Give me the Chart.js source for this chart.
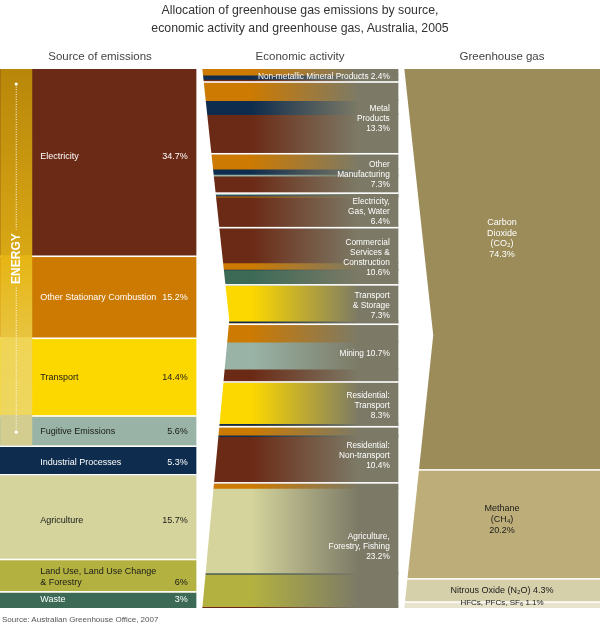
<!DOCTYPE html>
<html>
<head>
<meta charset="utf-8">
<script src="https://cdn.jsdelivr.net/npm/chart.js@4.4.1/dist/chart.umd.min.js"></script>
<style>
  html, body { margin: 0; padding: 0; background: #fff; overflow: hidden; }
  body { width: 600px; height: 629px; position: relative; font-family: "Liberation Sans", Arial, sans-serif; }
  #flow { position: absolute; left: -3px; top: 0; }
  #title { position: absolute; left: 0; top: 1px; width: 600px; text-align: center; font-size: 12.3px; line-height: 18px; color: #333; }
  #source { position: absolute; left: 2px; top: 615px; font-size: 8px; line-height: 10px; color: #555; }
</style>
</head>
<body>
<canvas id="flow" width="606" height="629"></canvas>
<div id="title">Allocation of greenhouse gas emissions by source,<br>economic activity and greenhouse gas, Australia, 2005</div>
<div id="source">Source: Australian Greenhouse Office, 2007</div>
<script>
// column headings
const columnTitles = ['Source of emissions', 'Economic activity', 'Greenhouse gas'];

// source of emissions (% of total)
const sourceLabels = [['Electricity'], ['Other Stationary Combustion'], ['Transport'], ['Fugitive Emissions'],
  ['Industrial Processes'], ['Agriculture'], ['Land Use, Land Use Change', '& Forestry'], ['Waste']];
const sourceValues = [34.7, 15.2, 14.4, 5.6, 5.3, 15.7, 6, 3];
const energySources = 4; // first four sources form ENERGY

// economic activity (% of total)
const activityLabels = [['Non-metallic Mineral Products'], ['Metal', 'Products'], ['Other', 'Manufacturing'],
  ['Electricity,', 'Gas, Water'], ['Commercial', 'Services &', 'Construction'], ['Transport', '& Storage'],
  ['Mining'], ['Residential:', 'Transport'], ['Residential:', 'Non-transport'], ['Agriculture,', 'Forestry, Fishing']];
const activityValues = [2.4, 13.3, 7.3, 6.4, 10.6, 7.3, 10.7, 8.3, 10.4, 23.2];
// share of each activity by source, [source index, %], top to bottom
const activityMix = [
  [[1, 1.1], [4, 0.8], [0, 0.5]],
  [[1, 3.4], [4, 2.6], [0, 7.3]],
  [[1, 2.8], [4, 1.0], [3, 0.3], [0, 3.2]],
  [[3, 0.3], [4, 0.2], [1, 0.2], [0, 5.7]],
  [[0, 6.5], [1, 1.2], [4, 0.1], [7, 2.8]],
  [[2, 6.7], [4, 0.3], [1, 0.3]],
  [[1, 3.3], [3, 5.0], [0, 2.4]],
  [[2, 7.7], [4, 0.3], [1, 0.3]],
  [[1, 1.5], [4, 0.3], [0, 8.6]],
  [[1, 1.0], [5, 15.7], [4, 0.2], [6, 6.0], [0, 0.3]]
];

// greenhouse gas (% of total)
const gasLabels = [['Carbon', 'Dioxide', '(CO\u2082)'], ['Methane', '(CH\u2084)'], ['Nitrous Oxide (N\u2082O)'], ['HFCs, PFCs, SF\u2086']];
const gasValues = [74.3, 20.2, 4.3, 1.1];

// styles
const sourceColors = ['#6b2a15', '#cc7a02', '#fdd800', '#99b4a7', '#0e2c4d', '#d4d49c', '#b3b240', '#3c6a57'];
const sourceText = ['#fff', '#fff', '#1a1a1a', '#1a1a1a', '#fff', '#1a1a1a', '#1a1a1a', '#fff'];
const sourceShift = [-6, 0, 0, 0, 2, 3, 1, 0];
const energyStrip = [['#b8870a', '#d9a815'], ['#e6b514', '#e8c440'], ['#efd455', '#eed760'], ['#d3ce8f', '#d3ce8f']];
const gasColors = ['#9b8c5a', '#bdae79', '#d5cfaa', '#e7e3cd'];
const gasText = ['#fff', '#1a1a1a', '#1a1a1a', '#222'];
const gasShift = [-31, -5, 0, -2];
const fadeGray = '#7c7a66';
const barPct = 0.968;
const FONT = '"Liberation Sans", Arial, sans-serif';
const pct = v => v + '%';

const gradCache = {};
function fadeFill(color) {
  return (c) => {
    const chart = c.chart, xs = chart.scales.x;
    if (!chart.chartArea || !xs) return color;
    const w = xs.width / 3 * barPct;
    const cx = xs.getPixelForValue(1);
    const key = color + '|' + cx;
    if (!gradCache[key]) {
      const g = chart.ctx.createLinearGradient(cx - w / 2, 0, cx + w / 2, 0);
      g.addColorStop(0, color);
      g.addColorStop(0.25, color);
      g.addColorStop(0.8, fadeGray);
      g.addColorStop(1, fadeGray);
      gradCache[key] = g;
    }
    return gradCache[key];
  };
}

const datasets = [];
sourceValues.forEach((v, i) => datasets.push({
  data: [v, null, null], col: 0, seg: i, backgroundColor: sourceColors[i]
}));
activityMix.forEach((mix, i) => mix.forEach(([s, v]) => datasets.push({
  data: [null, v, null], col: 1, seg: i, backgroundColor: fadeFill(sourceColors[s])
})));
gasValues.forEach((v, i) => datasets.push({
  data: [null, null, v], col: 2, seg: i, backgroundColor: gasColors[i]
}));

function columnBoxes(chart, col) {
  const boxes = [];
  chart.data.datasets.forEach((ds, i) => {
    if (ds.col !== col) return;
    const el = chart.getDatasetMeta(i).data[col];
    const top = Math.min(el.y, el.base), bottom = Math.max(el.y, el.base);
    const b = boxes[ds.seg];
    if (!b) boxes[ds.seg] = { top, bottom, left: el.x - el.width / 2, right: el.x + el.width / 2, cx: el.x };
    else { b.top = Math.min(b.top, top); b.bottom = Math.max(b.bottom, bottom); }
  });
  return boxes;
}

function separators(ctx, boxes) {
  ctx.fillStyle = '#fff';
  boxes.slice(0, -1).forEach(b => ctx.fillRect(b.left - 1, b.bottom - 0.75, b.right - b.left + 2, 1.6));
}

function drawLines(ctx, lines, x, cy, lh) {
  const y0 = cy - (lines.length - 1) * lh / 2;
  lines.forEach((t, k) => ctx.fillText(t, x, y0 + k * lh));
  return y0 + (lines.length - 1) * lh;
}

function notch(ctx, boxes, depth, frac) {
  const L = boxes[0].left, T = boxes[0].top, B = boxes[boxes.length - 1].bottom;
  ctx.fillStyle = '#fff';
  ctx.beginPath();
  ctx.moveTo(L - 5, T - 1);
  ctx.lineTo(L, T - 1);
  ctx.lineTo(L + depth, T + (B - T) * frac);
  ctx.lineTo(L, B + 1);
  ctx.lineTo(L - 5, B + 1);
  ctx.closePath();
  ctx.fill();
}

const flowLabels = {
  id: 'flowLabels',
  afterDatasetsDraw(chart) {
    const ctx = chart.ctx;
    const src = columnBoxes(chart, 0), act = columnBoxes(chart, 1), gas = columnBoxes(chart, 2);
    ctx.save();

    separators(ctx, src);
    separators(ctx, act);
    separators(ctx, gas);

    // ENERGY strip
    const stripW = 32;
    for (let i = 0; i < energySources; i++) {
      const b = src[i];
      const bot = i === energySources - 1 ? b.bottom - 0.75 : b.bottom;
      const g = ctx.createLinearGradient(0, b.top, 0, bot);
      g.addColorStop(0, energyStrip[i][0]);
      g.addColorStop(1, energyStrip[i][1]);
      ctx.fillStyle = g;
      ctx.fillRect(b.left, i === 0 ? b.top : b.top - 1, stripW, bot - b.top + (i === 0 ? 0 : 1));
    }
    const eTop = src[0].top, eBot = src[energySources - 1].bottom;
    const ex = src[0].left + 16, eMid = (eTop + eBot) / 2;
    ctx.strokeStyle = '#fff';
    ctx.lineWidth = 1;
    ctx.setLineDash([1, 1.5]);
    ctx.beginPath();
    ctx.moveTo(ex, eTop + 15); ctx.lineTo(ex, eMid - 28);
    ctx.moveTo(ex, eMid + 30); ctx.lineTo(ex, eBot - 14);
    ctx.stroke();
    ctx.setLineDash([]);
    ctx.fillStyle = '#fff';
    [eTop + 15, eBot - 14].forEach(y => { ctx.beginPath(); ctx.arc(ex, y, 1.6, 0, Math.PI * 2); ctx.fill(); });
    ctx.save();
    ctx.translate(ex, eMid + 1);
    ctx.rotate(-Math.PI / 2);
    ctx.font = 'bold 12px ' + FONT;
    ctx.textAlign = 'center';
    ctx.textBaseline = 'middle';
    ctx.fillText('ENERGY', 0, 0);
    ctx.restore();

    // notched left edges
    notch(ctx, act, 27, 0.466);
    notch(ctx, gas, 29, 0.494);

    ctx.textBaseline = 'middle';

    // column headings
    ctx.font = '11.5px ' + FONT;
    ctx.fillStyle = '#444';
    ctx.textAlign = 'center';
    [src, act, gas].forEach((c, i) => ctx.fillText(columnTitles[i], c[0].cx + (i === 0 ? 2 : 0), 57));

    // source labels
    ctx.font = '9px ' + FONT;
    src.forEach((b, i) => {
      ctx.fillStyle = sourceText[i];
      ctx.textAlign = 'left';
      const yLast = drawLines(ctx, sourceLabels[i], b.left + 40, (b.top + b.bottom) / 2 + sourceShift[i], 11);
      ctx.textAlign = 'right';
      ctx.fillText(pct(sourceValues[i]), b.right - 8, yLast);
    });

    // activity labels
    ctx.font = '8.3px ' + FONT;
    ctx.fillStyle = '#fff';
    ctx.textAlign = 'right';
    act.forEach((b, i) => {
      const lines = activityLabels[i].length === 1
        ? [activityLabels[i][0] + ' ' + pct(activityValues[i])]
        : activityLabels[i].concat(pct(activityValues[i]));
      drawLines(ctx, lines, b.right - 8, (b.top + b.bottom) / 2 + 1, 10);
    });

    // gas labels
    ctx.textAlign = 'center';
    gas.forEach((b, i) => {
      ctx.font = (i === 3 ? '8px ' : '9px ') + FONT;
      ctx.fillStyle = gasText[i];
      const lines = gasLabels[i].length === 1
        ? [gasLabels[i][0] + ' ' + pct(gasValues[i])]
        : gasLabels[i].concat(pct(gasValues[i]));
      drawLines(ctx, lines, b.cx, (b.top + b.bottom) / 2 + gasShift[i], 10.7);
    });

    ctx.restore();
  }
};

new Chart(document.getElementById('flow'), {
  type: 'bar',
  data: { labels: columnTitles, datasets: datasets },
  options: {
    responsive: false,
    animation: false,
    events: [],
    layout: { padding: { top: 69, bottom: 21, left: 0, right: 0 } },
    datasets: { bar: { categoryPercentage: 1, barPercentage: barPct, borderWidth: 0, inflateAmount: 0.6 } },
    plugins: { legend: { display: false }, tooltip: { enabled: false } },
    scales: {
      x: { display: false, stacked: true },
      y: { display: false, stacked: true, reverse: true, min: 0, max: 99.9 }
    }
  },
  plugins: [flowLabels]
});
</script>
</body>
</html>
